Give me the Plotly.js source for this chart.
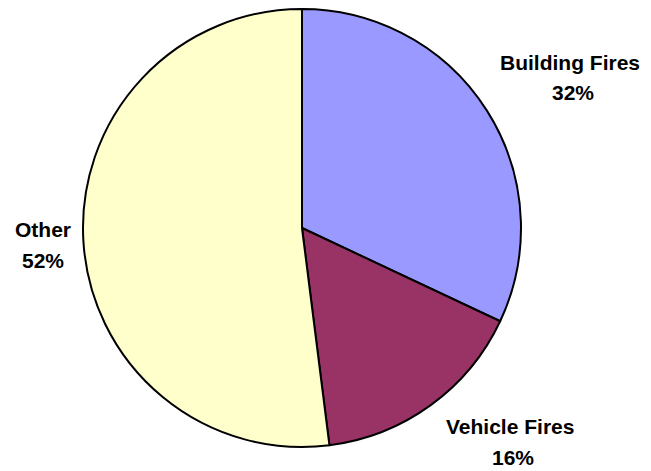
<!DOCTYPE html>
<html>
<head>
<meta charset="utf-8">
<script src="https://cdn.plot.ly/plotly-3.0.1.min.js"></script>
<style>
  html, body { margin: 0; padding: 0; background: #fff; }
  #chart { width: 651px; height: 471px; }
</style>
</head>
<body>
<div id="chart"></div>
<script>
// Data
const categories = ['Building Fires', 'Vehicle Fires', 'Other'];
const shares = [32, 16, 52];
const sliceColors = ['#9999FF', '#993366', '#FFFFCC'];

// Outside label placement (pixels): name line and percent line
const namePos = [{ x: 570, y: 63 }, { x: 510, y: 426 }, { x: 43, y: 229 }];
const pctPos = [{ x: 573, y: 93 }, { x: 513, y: 457 }, { x: 43, y: 260 }];

const W = 651, H = 471;
const labelFont = { family: 'Liberation Sans, Arial, sans-serif', size: 21, color: '#000' };

function pxAnnotation(p, text) {
    return {
        x: p.x / W, y: 1 - p.y / H, xref: 'paper', yref: 'paper',
        text: '<b>' + text + '</b>', showarrow: false,
        xanchor: 'center', yanchor: 'middle', font: labelFont
    };
}

const annotations = [];
categories.forEach((name, i) => {
    annotations.push(pxAnnotation(namePos[i], name));
    annotations.push(pxAnnotation(pctPos[i], shares[i] + '%'));
});

const trace = {
    type: 'pie',
    labels: categories,
    values: shares,
    sort: false,
    direction: 'clockwise',
    rotation: 0,
    textinfo: 'none',
    hoverinfo: 'label+percent',
    marker: {
        colors: sliceColors,
        line: { color: '#000', width: 2 }
    },
    domain: { x: [83 / W, 521 / W], y: [(H - 447) / H, (H - 9) / H] }
};

const layout = {
    width: W,
    height: H,
    margin: { t: 0, b: 0, l: 0, r: 0 },
    showlegend: false,
    paper_bgcolor: '#fff',
    annotations: annotations
};

Plotly.newPlot('chart', [trace], layout, { displayModeBar: false, staticPlot: true });
</script>
</body>
</html>
